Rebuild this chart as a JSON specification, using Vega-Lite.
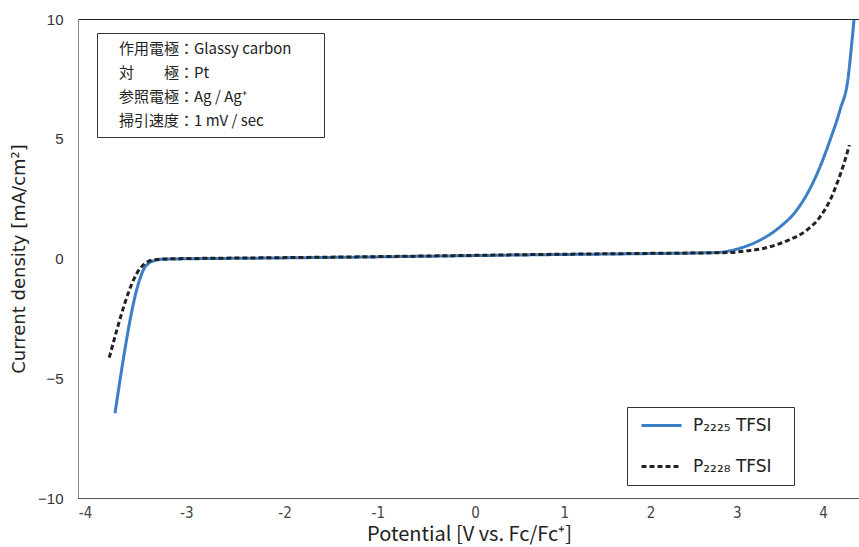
{
  "$schema": "https://vega.github.io/schema/vega-lite/v6.json",
  "autosize": "none",
  "width": 782,
  "height": 479,
  "padding": {"left": 78, "top": 19, "right": 0, "bottom": 49},
  "background": "white",
  "config": {
    "view": {"stroke": "#222", "strokeWidth": 1},
    "axis": {"grid": false, "ticks": false}
  },
  "datasets": {
    "curves": [
      {"series": "P₂₂₂₅ TFSI", "potential": -3.675, "current": -6.46},
      {"series": "P₂₂₂₅ TFSI", "potential": -3.404, "current": -0.84},
      {"series": "P₂₂₂₅ TFSI", "potential": -3.36, "current": -0.42},
      {"series": "P₂₂₂₅ TFSI", "potential": -3.31, "current": -0.2},
      {"series": "P₂₂₂₅ TFSI", "potential": -3.24, "current": -0.08},
      {"series": "P₂₂₂₅ TFSI", "potential": -3.15, "current": -0.03},
      {"series": "P₂₂₂₅ TFSI", "potential": -2.0, "current": 0.02},
      {"series": "P₂₂₂₅ TFSI", "potential": -1.0, "current": 0.06},
      {"series": "P₂₂₂₅ TFSI", "potential": 0.0, "current": 0.11},
      {"series": "P₂₂₂₅ TFSI", "potential": 1.0, "current": 0.16},
      {"series": "P₂₂₂₅ TFSI", "potential": 2.0, "current": 0.2},
      {"series": "P₂₂₂₅ TFSI", "potential": 2.85, "current": 0.25},
      {"series": "P₂₂₂₅ TFSI", "potential": 2.99, "current": 0.32},
      {"series": "P₂₂₂₅ TFSI", "potential": 3.1, "current": 0.43},
      {"series": "P₂₂₂₅ TFSI", "potential": 3.25, "current": 0.64},
      {"series": "P₂₂₂₅ TFSI", "potential": 3.353, "current": 0.84},
      {"series": "P₂₂₂₅ TFSI", "potential": 3.534, "current": 1.32},
      {"series": "P₂₂₂₅ TFSI", "potential": 3.715, "current": 2.02},
      {"series": "P₂₂₂₅ TFSI", "potential": 3.841, "current": 2.79},
      {"series": "P₂₂₂₅ TFSI", "potential": 3.968, "current": 3.83},
      {"series": "P₂₂₂₅ TFSI", "potential": 4.077, "current": 4.95},
      {"series": "P₂₂₂₅ TFSI", "potential": 4.184, "current": 6.2},
      {"series": "P₂₂₂₅ TFSI", "potential": 4.274, "current": 7.6},
      {"series": "P₂₂₂₅ TFSI", "potential": 4.312, "current": 9.0},
      {"series": "P₂₂₂₅ TFSI", "potential": 4.336, "current": 9.96},
      {"series": "P₂₂₂₈ TFSI", "potential": -3.737, "current": -4.14},
      {"series": "P₂₂₂₈ TFSI", "potential": -3.404, "current": -0.42},
      {"series": "P₂₂₂₈ TFSI", "potential": -3.34, "current": -0.18},
      {"series": "P₂₂₂₈ TFSI", "potential": -3.277, "current": -0.07},
      {"series": "P₂₂₂₈ TFSI", "potential": -3.15, "current": -0.02},
      {"series": "P₂₂₂₈ TFSI", "potential": -2.0, "current": 0.03},
      {"series": "P₂₂₂₈ TFSI", "potential": -1.0, "current": 0.07},
      {"series": "P₂₂₂₈ TFSI", "potential": 0.0, "current": 0.12},
      {"series": "P₂₂₂₈ TFSI", "potential": 1.0, "current": 0.17},
      {"series": "P₂₂₂₈ TFSI", "potential": 2.0, "current": 0.21},
      {"series": "P₂₂₂₈ TFSI", "potential": 2.992, "current": 0.25},
      {"series": "P₂₂₂₈ TFSI", "potential": 3.15, "current": 0.31},
      {"series": "P₂₂₂₈ TFSI", "potential": 3.353, "current": 0.42},
      {"series": "P₂₂₂₈ TFSI", "potential": 3.5, "current": 0.58},
      {"series": "P₂₂₂₈ TFSI", "potential": 3.642, "current": 0.79},
      {"series": "P₂₂₂₈ TFSI", "potential": 3.823, "current": 1.18},
      {"series": "P₂₂₂₈ TFSI", "potential": 3.968, "current": 1.74},
      {"series": "P₂₂₂₈ TFSI", "potential": 4.077, "current": 2.44},
      {"series": "P₂₂₂₈ TFSI", "potential": 4.166, "current": 3.28},
      {"series": "P₂₂₂₈ TFSI", "potential": 4.239, "current": 4.11},
      {"series": "P₂₂₂₈ TFSI", "potential": 4.286, "current": 4.74}
    ],
    "notes": [
      {"note": "作用電極：Glassy carbon"},
      {"note": "対　　極：Pt"},
      {"note": "参照電極：Ag / Ag⁺"},
      {"note": "掃引速度：1 mV / sec"}
    ]
  },
  "layer": [
    {
      "data": {"name": "curves"},
      "mark": {"type": "line", "strokeWidth": 3, "interpolate": "monotone", "clip": true},
      "encoding": {
        "x": {
          "field": "potential",
          "type": "quantitative",
          "scale": {"domain": [-4.076, 4.401], "nice": false, "zero": false},
          "axis": {
            "values": [-4, -3, -2, -1, 0, 1, 2, 3, 4],
            "labelExpr": "replace(datum.label, '−', '-')",
            "domainColor": "#555",
            "labelFont": "Liberation Sans Narrow, DejaVu Sans Condensed, sans-serif",
            "labelFontSize": 15,
            "labelColor": "#444",
            "labelPadding": 7,
            "labelOffset": {
              "condition": [
                {"test": "datum.value == -3", "value": 9},
                {"test": "datum.value == -2", "value": 15},
                {"test": "datum.value == -1", "value": 16},
                {"test": "datum.value == 0", "value": 21},
                {"test": "datum.value == 1", "value": 18},
                {"test": "datum.value == 2", "value": 12},
                {"test": "datum.value == 3", "value": 6}
              ],
              "value": 0
            },
            "title": "Potential [V vs. Fc/Fc⁺]",
            "titleFont": "Noto Sans CJK JP",
            "titleFontSize": 20,
            "titleFontWeight": "normal",
            "titleColor": "#222",
            "titlePadding": 4
          }
        },
        "y": {
          "field": "current",
          "type": "quantitative",
          "scale": {"domain": [-10, 10], "nice": false},
          "axis": {
            "values": [-10, -5, 0, 5, 10],
            "domainColor": "#888",
            "labelFont": "Liberation Sans",
            "labelFontSize": 15,
            "labelColor": "#333",
            "labelPadding": 15,
            "title": "Current density [mA/cm²]",
            "titleFont": "DejaVu Sans",
            "titleFontSize": 18,
            "titleFontWeight": "normal",
            "titleColor": "#222",
            "titlePadding": 9
          }
        },
        "color": {
          "field": "series",
          "type": "nominal",
          "scale": {"domain": ["P₂₂₂₅ TFSI", "P₂₂₂₈ TFSI"], "range": ["#3b7dc6", "#222222"]},
          "legend": {
            "title": "　",
            "titleOrient": "right",
            "titleFontSize": 2,
            "titlePadding": 12,
            "orient": "none",
            "legendX": 549,
            "legendY": 388,
            "padding": 10,
            "strokeColor": "#333",
            "fillColor": "white",
            "symbolType": "M-1,0H9",
            "symbolSize": 64,
            "symbolStrokeWidth": 3,
            "symbolFillColor": "transparent",
            "labelOffset": 39,
            "rowPadding": 23,
            "labelFont": "DejaVu Sans",
            "labelFontSize": 17,
            "labelColor": "#222",
            "labelLimit": 300,
            "encode": {
              "symbols": {
                "update": {
                  "strokeDash": {"signal": "datum.value == 'P₂₂₂₈ TFSI' ? [5, 3] : [1, 0]"}
                }
              }
            }
          }
        },
        "strokeDash": {
          "field": "series",
          "type": "nominal",
          "scale": {"domain": ["P₂₂₂₅ TFSI", "P₂₂₂₈ TFSI"], "range": [[1, 0], [5, 3]]},
          "legend": null
        }
      }
    },
    {
      "data": {"name": "notes"},
      "mark": {"type": "point", "opacity": 0},
      "encoding": {
        "shape": {
          "field": "note",
          "type": "nominal",
          "scale": {
            "domain": ["作用電極：Glassy carbon", "対　　極：Pt", "参照電極：Ag / Ag⁺", "掃引速度：1 mV / sec"],
            "range": ["circle", "circle", "circle", "circle"]
          },
          "legend": {
            "title": "　",
            "titleOrient": "right",
            "titlePadding": 24,
            "titleFontSize": 15,
            "orient": "none",
            "legendX": 19,
            "legendY": 14,
            "padding": 8,
            "strokeColor": "#333",
            "fillColor": "white",
            "symbolSize": 0,
            "symbolStrokeWidth": 0,
            "symbolOpacity": 0,
            "labelOffset": -1,
            "rowPadding": 8,
            "labelFont": "Noto Sans CJK JP",
            "labelFontSize": 15,
            "labelColor": "#222",
            "labelLimit": 300
          }
        }
      }
    }
  ],
  "resolve": {"legend": {"color": "independent", "shape": "independent"}}
}
